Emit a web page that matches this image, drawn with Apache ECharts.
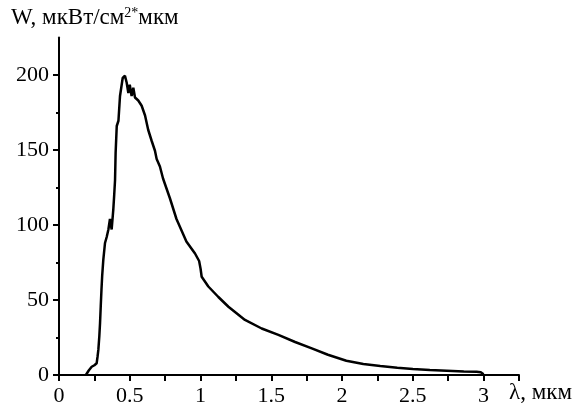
<!DOCTYPE html>
<html>
<head>
<meta charset="utf-8">
<script src="https://cdn.jsdelivr.net/npm/echarts@6/dist/echarts.min.js"></script>
<style>
  html, body { margin: 0; padding: 0; background: #fff; }
  #main { width: 575px; height: 409px; }
</style>
</head>
<body>
<div id="main"></div>
<script>
// spectrum
var lambda = [0.19, 0.195, 0.21, 0.231, 0.25, 0.266, 0.272, 0.278, 0.285, 0.29, 0.295, 0.30, 0.305, 0.313,
    0.325, 0.337, 0.349, 0.36, 0.372, 0.384, 0.39, 0.396, 0.40, 0.408, 0.42, 0.431, 0.45, 0.466, 0.478,
    0.49, 0.50, 0.513, 0.525, 0.537, 0.56, 0.584, 0.608, 0.63, 0.655, 0.678, 0.69, 0.713, 0.735, 0.783,
    0.83, 0.90, 0.961, 0.99, 1.0, 1.008, 1.055, 1.126, 1.197, 1.314, 1.432, 1.55, 1.668, 1.786, 1.90,
    2.03, 2.15, 2.27, 2.39, 2.50, 2.62, 2.74, 2.86, 2.95, 2.98, 3.0];
var power = [0, 1.3, 3, 5.5, 6.5, 7.8, 12, 16.7, 26, 34.7, 46, 56.7, 66, 76.7,
    88, 92, 97, 104, 97, 110.7, 120, 130, 148, 166, 169.5, 186, 198, 199.5, 195,
    188, 193.5, 186, 191.5, 185, 183, 179.5, 173, 163.5, 156, 149.5, 144, 139, 131, 118,
    104, 89, 81, 76, 71, 65.5, 59, 52, 45.5, 36.7, 31, 26.7, 22, 17.8, 13.5,
    9.5, 7.3, 6, 4.9, 4, 3.3, 2.9, 2.4, 2.2, 1.8, 0.5];
var yMajor = [0, 50, 100, 150, 200];
var yMinor = [25, 75, 125, 175];

var pts = [];
for (var i = 0; i < lambda.length; i++) {
    pts.push([lambda[i], power[i]]);
}

var font = '"Liberation Serif", "DejaVu Serif", serif';
var myChart = echarts.init(document.getElementById('main'));
var option = {
    animation: false,
    backgroundColor: '#fff',
    grid: { left: 59, right: 56, top: 37.5, bottom: 34 },
    xAxis: {
        type: 'value',
        min: 0,
        max: 3.25,
        interval: 0.25,
        splitLine: { show: false },
        axisLine: { lineStyle: { color: '#000', width: 2 } },
        axisTick: { length: 6, lineStyle: { color: '#000', width: 2 } },
        axisLabel: {
            color: '#000', fontFamily: font, fontSize: 22, margin: 10,
            formatter: function (v) {
                var r = Math.round(v * 100) / 100;
                if (Math.abs(r * 2 - Math.round(r * 2)) > 1e-6 || r > 3) return '';
                return String(r);
            }
        }
    },
    yAxis: [
        {
            type: 'value',
            min: 0,
            max: 225,
            interval: 25,
            splitLine: { show: false },
            axisLine: { show: true, lineStyle: { color: '#000', width: 2 } },
            axisTick: { customValues: yMajor, length: 6, lineStyle: { color: '#000', width: 2 } },
            axisLabel: { customValues: yMajor, color: '#000', fontFamily: font, fontSize: 22, margin: 10 }
        },
        {
            type: 'value',
            min: 0,
            max: 225,
            position: 'left',
            splitLine: { show: false },
            axisLine: { show: false },
            axisTick: { show: true, customValues: yMinor, length: 3, lineStyle: { color: '#000', width: 2 } },
            axisLabel: { show: false }
        }
    ],
    graphic: [
        {
            type: 'text', left: 11, top: 6,
            style: {
                text: '{a|W, мкВт/см}{s|2*}{a|мкм}',
                rich: {
                    a: { fontFamily: font, fontSize: 23, fill: '#000' },
                    s: { fontFamily: font, fontSize: 14, fill: '#000', padding: [0, 0, 9, 0] }
                }
            }
        },
        {
            type: 'text', left: 509, top: 381,
            style: { text: 'λ, мкм', fontFamily: font, fontSize: 23, fill: '#000' }
        }
    ],
    series: [
        {
            type: 'line',
            data: pts,
            showSymbol: false,
            smooth: false,
            lineStyle: { color: '#000', width: 2.5 }
        }
    ]
};
myChart.setOption(option);
</script>
</body>
</html>
